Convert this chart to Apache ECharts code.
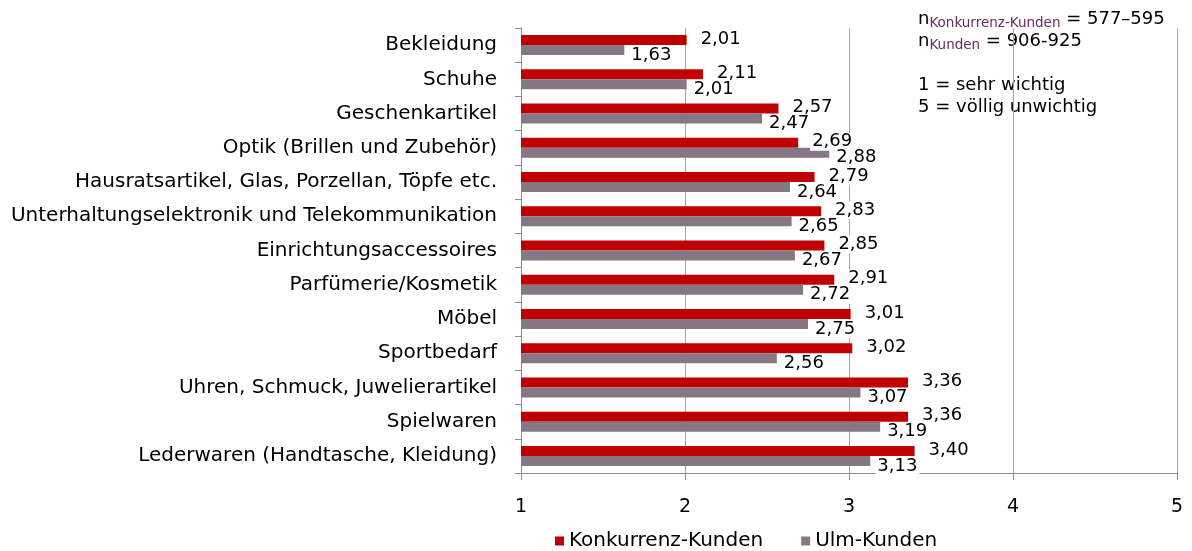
<!DOCTYPE html>
<html>
<head>
<meta charset="utf-8">
<script src="https://cdn.jsdelivr.net/npm/echarts@6/dist/echarts.min.js"></script>
<style>
  html, body { margin: 0; padding: 0; background: #fff; }
  #chart { width: 1192px; height: 551px; }
</style>
</head>
<body>
<div id="chart"></div>
<script>
  // Kategorien von oben nach unten
  const categories = [
    'Bekleidung',
    'Schuhe',
    'Geschenkartikel',
    'Optik (Brillen und Zubehör)',
    'Hausratsartikel, Glas, Porzellan, Töpfe etc.',
    'Unterhaltungselektronik und Telekommunikation',
    'Einrichtungsaccessoires',
    'Parfümerie/Kosmetik',
    'Möbel',
    'Sportbedarf',
    'Uhren, Schmuck, Juwelierartikel',
    'Spielwaren',
    'Lederwaren (Handtasche, Kleidung)'
  ]
  const konkurrenzKunden = [2.01, 2.11, 2.57, 2.69, 2.79, 2.83, 2.85, 2.91, 3.01, 3.02, 3.36, 3.36, 3.40]
  const ulmKunden = [1.63, 2.01, 2.47, 2.88, 2.64, 2.65, 2.67, 2.72, 2.75, 2.56, 3.07, 3.19, 3.13]
  const seriesNames = ['Konkurrenz-Kunden', 'Ulm-Kunden']

  const font = 'DejaVu Sans, Verdana, sans-serif'
  const fmt = (p) => p.value.toFixed(2).replace('.', ',')

  let myChart = echarts.init(document.getElementById('chart'))
  let option = {
    animation: false,
    textStyle: { fontFamily: font },
    grid: { left: 521, right: 15, top: 28, bottom: 78 },
    legend: {
      data: seriesNames,
      bottom: -5,
      left: 550,
      itemWidth: 9,
      itemHeight: 9,
      itemGap: 38,
      icon: 'rect',
      textStyle: { fontSize: 20, color: '#000', fontFamily: font }
    },
    xAxis: {
      type: 'value',
      min: 1,
      max: 5,
      interval: 1,
      axisLine: { show: true, lineStyle: { color: '#8c8c8c' } },
      axisTick: { show: true, length: 7, lineStyle: { color: '#8c8c8c' } },
      axisLabel: { fontSize: 19, color: '#000', margin: 25 },
      splitLine: { show: true, lineStyle: { color: '#a6a6a6' } }
    },
    yAxis: {
      type: 'category',
      inverse: true,
      data: categories,
      axisLine: { show: true, lineStyle: { color: '#8c8c8c' } },
      axisTick: { show: true, length: 6, lineStyle: { color: '#8c8c8c' } },
      axisLabel: { fontSize: 20, color: '#000', margin: 24 }
    },
    series: [
      {
        name: seriesNames[0],
        type: 'bar',
        data: konkurrenzKunden,
        barWidth: 10,
        barGap: '0%',
        itemStyle: { color: '#c00000' },
        label: {
          show: true,
          position: 'right',
          distance: 12,
          offset: [0, -1],
          formatter: fmt,
          fontSize: 18,
          color: '#000',
          backgroundColor: '#fff',
          padding: [0, 2]
        }
      },
      {
        name: seriesNames[1],
        type: 'bar',
        data: ulmKunden,
        barWidth: 10,
        itemStyle: { color: '#857784' },
        label: {
          show: true,
          position: 'right',
          distance: 5,
          offset: [0, 5],
          formatter: fmt,
          fontSize: 18,
          color: '#000',
          backgroundColor: '#fff',
          padding: [0, 2]
        }
      }
    ],
    graphic: [
      {
        type: 'text',
        left: 918,
        top: 8,
        style: {
          text: 'n{s|Konkurrenz-Kunden} = 577–595\nn{s|Kunden} = 906-925\n\n1 = sehr wichtig\n5 = völlig unwichtig',
          font: '18px ' + font,
          fill: '#000',
          lineHeight: 22,
          rich: {
            s: { fontSize: 13.5, fill: '#6b2a63', verticalAlign: 'bottom', padding: [8, 0, 0, 0], fontFamily: font }
          }
        }
      }
    ]
  }
  myChart.setOption(option)
</script>
</body>
</html>
